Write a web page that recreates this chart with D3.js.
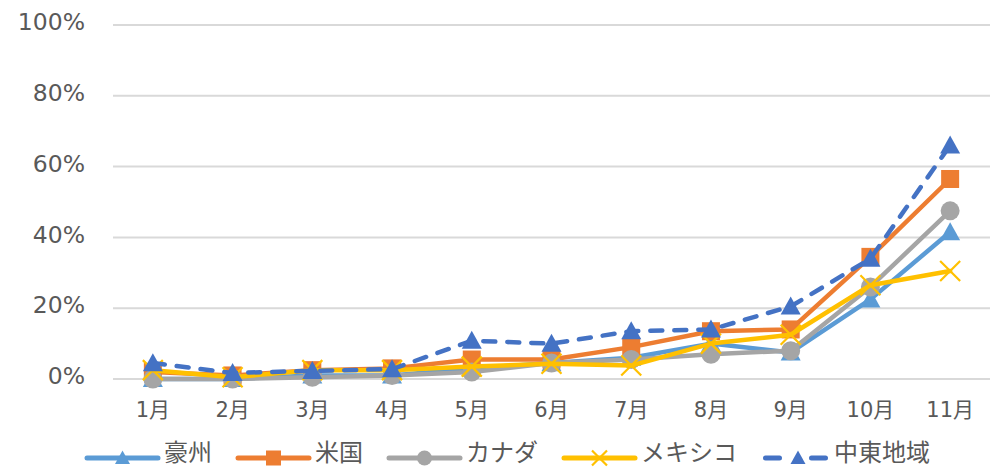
<!DOCTYPE html>
<html>
<head>
<meta charset="utf-8">
<script src="https://cdn.jsdelivr.net/npm/d3@7"></script>
<style>
  html, body { margin: 0; padding: 0; background: #ffffff; }
  svg { display: block; }
  text { fill: #595959; }
</style>
</head>
<body>
<svg id="chart" width="997" height="470"></svg>
<script>
// Monthly categories
const months = ["1月", "2月", "3月", "4月", "5月", "6月", "7月", "8月", "9月", "10月", "11月"];

// Share per region (%)
const australia = [0, 0, 1, 1, 3, 4.5, 6, 10, 7.5, 22.5, 41.5];
const usa       = [2, 1, 2.5, 3, 5.5, 5.5, 9, 13.5, 14, 34.5, 56.5];
const canada    = [0, 0, 0.5, 1, 2, 4.5, 5.5, 7, 8, 26, 47.5];
const mexico    = [2.5, 0.5, 2.5, 2.5, 3.5, 4.3, 3.8, 10, 12.5, 26.5, 30.5];
const midEast   = [4.5, 1.7, 2.3, 2.8, 10.8, 10, 13.5, 14, 20.5, 34, 66];

// Y axis ticks
const yTicks = [0, 20, 40, 60, 80, 100];

const series = [
  { name: "豪州",     values: australia, color: "#5B9BD5", marker: "triangle", dashed: false },
  { name: "米国",     values: usa,       color: "#ED7D31", marker: "square",   dashed: false },
  { name: "カナダ",   values: canada,    color: "#A5A5A5", marker: "circle",   dashed: false },
  { name: "メキシコ", values: mexico,    color: "#FFC000", marker: "cross",    dashed: false },
  { name: "中東地域", values: midEast,   color: "#4472C4", marker: "triangle", dashed: true }
];

const svg = d3.select("#chart");
const plot = { left: 113, right: 990, top: 25, bottom: 379 };

const x = d3.scaleBand().domain(months).range([plot.left, plot.right]).padding(0);
const y = d3.scaleLinear().domain([0, 100]).range([plot.bottom, plot.top]);
const cx = m => x(m) + x.bandwidth() / 2;

const numFont = "'DejaVu Sans', 'Noto Sans CJK JP', sans-serif";
const cjkFont = "'Noto Sans CJK JP', 'DejaVu Sans', sans-serif";

// Gridlines
svg.append("g")
  .selectAll("line")
  .data(yTicks)
  .join("line")
  .attr("x1", plot.left).attr("x2", plot.right)
  .attr("y1", d => y(d)).attr("y2", d => y(d))
  .attr("stroke", "#D9D9D9").attr("stroke-width", 2);

// Y axis labels
const yAxis = d3.axisLeft(y).tickValues(yTicks).tickFormat(d => d + "%").tickSize(0).tickPadding(0);
const yg = svg.append("g").attr("transform", `translate(${plot.left - 28},0)`).call(yAxis);
yg.select(".domain").remove();
yg.selectAll("text")
  .attr("font-family", numFont).attr("font-size", 23.5)
  .attr("fill", "#595959").attr("dy", "0.2em");

// X axis labels
const xAxis = d3.axisBottom(x).tickSize(0).tickPadding(0);
const xg = svg.append("g").attr("transform", `translate(0,${plot.bottom + 31})`).call(xAxis);
xg.select(".domain").remove();
xg.selectAll("text")
  .attr("font-family", numFont).attr("font-size", 21)
  .attr("fill", "#595959").attr("dy", "0.33em");

// Marker painter
function drawMarker(g, type, color, s) {
  if (type === "triangle") {
    const h = s * 0.9;
    g.append("path")
      .attr("d", `M0,${-h * 0.55}L${s / 2},${h * 0.45}L${-s / 2},${h * 0.45}Z`)
      .attr("fill", color);
  } else if (type === "square") {
    g.append("rect")
      .attr("x", -s / 2).attr("y", -s / 2).attr("width", s).attr("height", s)
      .attr("fill", color);
  } else if (type === "circle") {
    g.append("circle").attr("r", s / 2).attr("fill", color);
  } else if (type === "cross") {
    const r = s / 2;
    g.append("path")
      .attr("d", `M${-r},${-r}L${r},${r}M${-r},${r}L${r},${-r}`)
      .attr("stroke", color).attr("stroke-width", 2.2).attr("fill", "none");
  }
}

const line = d3.line().x((d, i) => cx(months[i])).y(d => y(d));

const markerSize = { triangle: 20, square: 18, circle: 19, cross: 20 };

series.forEach(s => {
  const g = svg.append("g");
  g.append("path")
    .datum(s.values)
    .attr("d", line)
    .attr("fill", "none")
    .attr("stroke", s.color)
    .attr("stroke-width", 4.5)
    .attr("stroke-linejoin", "round")
    .attr("stroke-linecap", "round")
    .attr("stroke-dasharray", s.dashed ? "12,12" : null);
  s.values.forEach((v, i) => {
    const mg = g.append("g").attr("transform", `translate(${cx(months[i])},${y(v)})`);
    drawMarker(mg, s.marker, s.color, markerSize[s.marker]);
  });
});

// Legend
const legend = svg.append("g");
const legendY = 458;
const lineLen = 71, textGap = 6, itemGap = 26;
const legendMarker = { triangle: 15, square: 15, circle: 15, cross: 15 };
let lx = 0;
series.forEach(s => {
  const ig = legend.append("g").attr("transform", `translate(${lx},0)`);
  ig.append("line")
    .attr("x1", s.dashed ? 2.5 : 0).attr("x2", s.dashed ? lineLen - 8.5 : lineLen)
    .attr("y1", legendY).attr("y2", legendY)
    .attr("stroke", s.color).attr("stroke-width", 5)
    .attr("stroke-linecap", "round")
    .attr("stroke-dasharray", s.dashed ? "14,32" : null);
  const mg = ig.append("g").attr("transform", `translate(${s.dashed ? 35 : lineLen / 2},${legendY})`);
  drawMarker(mg, s.marker, s.color, legendMarker[s.marker]);
  const t = ig.append("text")
    .attr("x", (s.dashed ? lineLen - 6 : lineLen) + textGap)
    .attr("y", legendY + 3)
    .attr("font-family", cjkFont).attr("font-size", 24)
    .attr("fill", "#595959")
    .text(s.name);
  const w = t.node().getComputedTextLength();
  lx += lineLen + textGap + w + itemGap;
});
legend.attr("transform", `translate(87,0)`);
</script>
</body>
</html>
